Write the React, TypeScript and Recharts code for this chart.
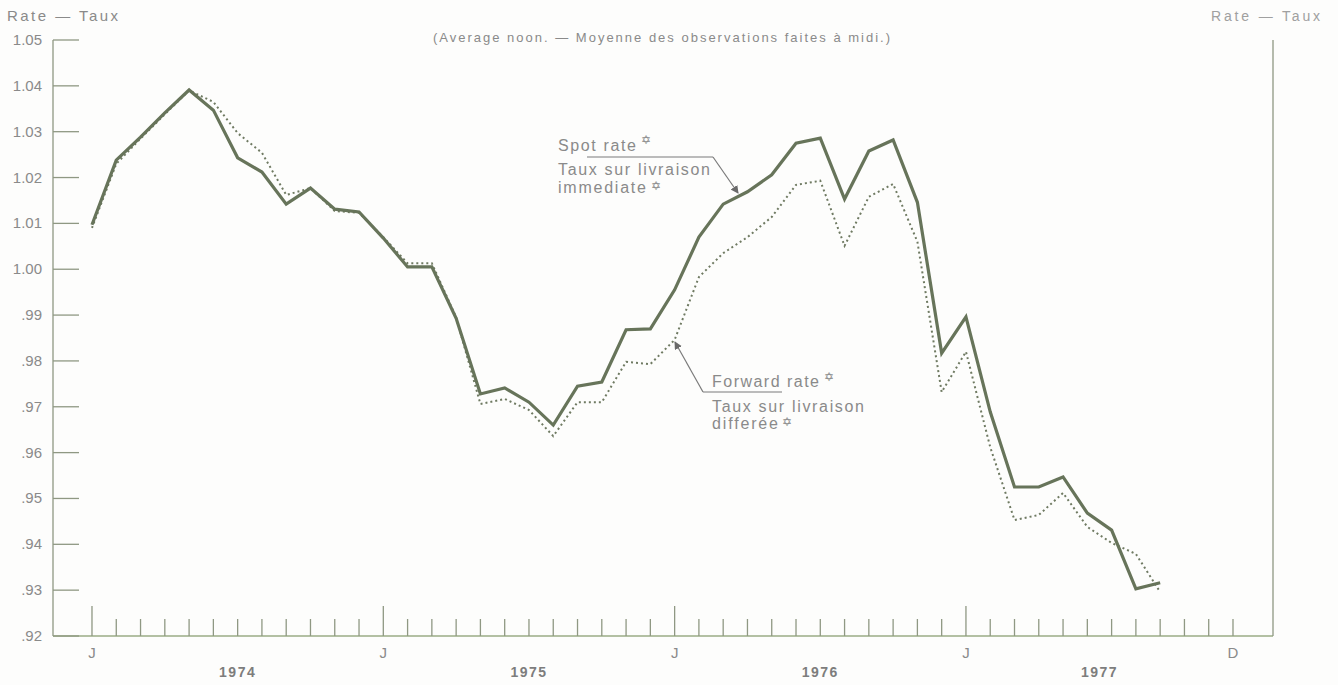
import React from 'react';
import { LineChart, Line, XAxis, YAxis } from 'recharts';

// Month index 0 = January 1974 ... 44 = September 1977
const monthIndex = [
  0, 1, 2, 3, 4, 5, 6, 7, 8, 9, 10, 11,
  12, 13, 14, 15, 16, 17, 18, 19, 20, 21, 22, 23,
  24, 25, 26, 27, 28, 29, 30, 31, 32, 33, 34, 35,
  36, 37, 38, 39, 40, 41, 42, 43, 44,
];

const spotRate = [
  1.0097, 1.0238, 1.0288, 1.0341, 1.0391, 1.0347, 1.0243, 1.0212, 1.0142, 1.0177, 1.0131, 1.0125,
  1.0068, 1.0005, 1.0005, 0.9893, 0.9728, 0.9741, 0.971, 0.966, 0.9745, 0.9754, 0.9868, 0.987,
  0.9955, 1.007, 1.0142, 1.0169, 1.0206, 1.0275, 1.0286, 1.0153, 1.0258, 1.0282, 1.0146, 0.9817,
  0.9896, 0.9689, 0.9525, 0.9525, 0.9547, 0.9468, 0.9431, 0.9303, 0.9316,
];

const forwardRate = [
  1.009, 1.023, 1.0285, 1.0338, 1.039, 1.0365, 1.0297, 1.0254, 1.0162, 1.0177, 1.0127, 1.0123,
  1.007, 1.0013, 1.0013, 0.9895, 0.9706, 0.9717, 0.9693, 0.9636, 0.971, 0.971, 0.9798, 0.9793,
  0.9846, 0.9983, 1.0035, 1.007, 1.0114, 1.0184, 1.0193, 1.0051, 1.0158, 1.0186, 1.006, 0.9732,
  0.982, 0.9612, 0.9453, 0.9464, 0.9512, 0.9438, 0.9403, 0.9379, 0.9296,
];

// month tick marks Jan 1974 .. Dec 1977
const monthTicks = [
  0, 1, 2, 3, 4, 5, 6, 7, 8, 9, 10, 11,
  12, 13, 14, 15, 16, 17, 18, 19, 20, 21, 22, 23,
  24, 25, 26, 27, 28, 29, 30, 31, 32, 33, 34, 35,
  36, 37, 38, 39, 40, 41, 42, 43, 44, 45, 46, 47,
];
const monthLabelAt: Record<number, string> = { 0: 'J', 12: 'J', 24: 'J', 36: 'J', 47: 'D' };

const yearLabels = ['1974', '1975', '1976', '1977'];
const yearTickPositions = [6, 18, 30, 41.5];

const rateTicks = [0.92, 0.93, 0.94, 0.95, 0.96, 0.97, 0.98, 0.99, 1.0, 1.01, 1.02, 1.03, 1.04, 1.05];

const data = monthIndex.map((m, i) => ({ m, spot: spotRate[i], forward: forwardRate[i] }));

const X_DOMAIN: [number, number] = [-1.606, 48.648];

const FONT = '"Liberation Sans", Arial, Helvetica, sans-serif';
const TEXT = '#8a8a8a';
const AXIS = '#8f9883';
const LINE = '#67745a';

const fmtRate = (v: number) => (v >= 1 ? v.toFixed(2) : '.' + Math.round(v * 100).toString().slice(-2));

const MonthTick = (props: any) => {
  const { x, y, payload } = props;
  const v = payload.value as number;
  const isJan = v % 12 === 0;
  const label = monthLabelAt[v];
  return (
    <g>
      <line x1={x} x2={x} y1={y} y2={y - (isJan ? 30 : 17)} stroke={AXIS} strokeWidth={1.3} />
      {label ? (
        <text x={x} y={y + 22} textAnchor="middle" fontFamily={FONT} fontSize={15} fill={TEXT}>
          {label}
        </text>
      ) : null}
    </g>
  );
};

const YearTick = (props: any) => {
  const { x, y, payload } = props;
  const idx = yearTickPositions.indexOf(payload.value);
  return (
    <text x={x} y={y + 17} textAnchor="middle" fontFamily={FONT} fontSize={14} fontWeight="bold" fill="#7d7d7d" letterSpacing={1.5}>
      {yearLabels[idx]}
    </text>
  );
};

const LeftTick = (props: any) => {
  const { x, y, payload } = props;
  return (
    <g>
      <line x1={x} x2={x + 26} y1={y} y2={y} stroke={AXIS} strokeWidth={1.3} />
      <text x={x - 11} y={y + 5} textAnchor="end" fontFamily={FONT} fontSize={15} fill={TEXT}>
        {fmtRate(payload.value)}
      </text>
    </g>
  );
};

const RightTick = (props: any) => {
  const { x, y, payload } = props;
  return (
    <g>
      <line x1={x - 25} x2={x} y1={y} y2={y} stroke={AXIS} strokeWidth={1.3} />
      <text x={x + 14} y={y + 5} textAnchor="start" fontFamily={FONT} fontSize={15} fill="#9a9a9a">
        {fmtRate(payload.value)}
      </text>
    </g>
  );
};

const Star = ({ x, y }: { x: number; y: number }) => (
  <text x={x} y={y} fontFamily='"DejaVu Sans", sans-serif' fontSize={12} fill={TEXT}>
    ✡
  </text>
);

export default function App() {
  return (
    <div style={{ position: 'absolute', left: 0, top: 0, width: 1338, height: 685, background: '#fdfdfc' }}>
      <LineChart width={1338} height={685} data={data} margin={{ top: 40, right: 0, bottom: 0, left: 0 }}>
        <XAxis
          xAxisId="m"
          dataKey="m"
          type="number"
          domain={X_DOMAIN}
          allowDataOverflow
          ticks={monthTicks}
          interval={0}
          tickSize={0}
          tickMargin={0}
          tickLine={false}
          tick={<MonthTick />}
          axisLine={{ stroke: '#9aab86', strokeWidth: 1.6 }}
          height={24}
        />
        <XAxis
          xAxisId="y"
          dataKey="m"
          type="number"
          domain={X_DOMAIN}
          allowDataOverflow
          ticks={yearTickPositions}
          interval={0}
          tickSize={0}
          tickMargin={0}
          tickLine={false}
          axisLine={false}
          tick={<YearTick />}
          height={25}
        />
        <YAxis
          yAxisId="left"
          domain={[0.92, 1.05]}
          ticks={rateTicks}
          interval={0}
          tickSize={0}
          tickMargin={0}
          tickLine={false}
          tick={<LeftTick />}
          axisLine={{ stroke: AXIS, strokeWidth: 1.3 }}
          width={53}
        />
        <YAxis
          yAxisId="right"
          orientation="right"
          domain={[0.92, 1.05]}
          ticks={rateTicks}
          interval={0}
          tickSize={0}
          tickMargin={0}
          tickLine={false}
          tick={<RightTick />}
          axisLine={{ stroke: AXIS, strokeWidth: 1.3 }}
          width={65}
        />
        <Line
          xAxisId="m"
          yAxisId="left"
          dataKey="forward"
          type="linear"
          stroke="#6f7a62"
          strokeWidth={2}
          strokeDasharray="2 3"
          dot={false}
          isAnimationActive={false}
        />
        <Line
          xAxisId="m"
          yAxisId="left"
          dataKey="spot"
          type="linear"
          stroke={LINE}
          strokeWidth={3.2}
          dot={false}
          isAnimationActive={false}
        />
      </LineChart>
      <svg
        width={1338}
        height={685}
        style={{ position: 'absolute', left: 0, top: 0, pointerEvents: 'none' }}
      >
        <defs>
          <marker id="ah" markerWidth="8" markerHeight="8" refX="7" refY="4" orient="auto" markerUnits="userSpaceOnUse">
            <path d="M0,0 L8,4 L0,8 z" fill="#6a6a6a" />
          </marker>
        </defs>
        <text x={7} y={21} fontFamily={FONT} fontSize={15} fill={TEXT} textLength={111} lengthAdjust="spacing">
          Rate — Taux
        </text>
        <text x={1211} y={21} fontFamily={FONT} fontSize={14} fill="#a0a0a0" textLength={109} lengthAdjust="spacing">
          Rate — Taux
        </text>
        <text x={433} y={42} fontFamily={FONT} fontSize={13} fill={TEXT} textLength={457} lengthAdjust="spacing">
          (Average noon. — Moyenne des observations faites à midi.)
        </text>

        {/* Spot rate annotation */}
        <text x={558} y={151} fontFamily={FONT} fontSize={16} fill={TEXT} textLength={78} lengthAdjust="spacing">
          Spot rate
        </text>
        <Star x={641} y={144} />
        <line x1={587} y1={157} x2={713} y2={157} stroke="#7a7a7a" strokeWidth={1.2} />
        <line x1={713} y1={157} x2={738} y2={193} stroke="#7a7a7a" strokeWidth={1.2} markerEnd="url(#ah)" />
        <text x={558} y={175} fontFamily={FONT} fontSize={16} fill={TEXT} textLength={152} lengthAdjust="spacing">
          Taux sur livraison
        </text>
        <text x={558} y={193} fontFamily={FONT} fontSize={16} fill={TEXT} textLength={88} lengthAdjust="spacing">
          immediate
        </text>
        <Star x={651} y={190} />

        {/* Forward rate annotation */}
        <text x={712} y={387} fontFamily={FONT} fontSize={16} fill={TEXT} textLength={107} lengthAdjust="spacing">
          Forward rate
        </text>
        <Star x={824} y={381} />
        <line x1={703} y1={392} x2={782} y2={392} stroke="#7a7a7a" strokeWidth={1.2} />
        <line x1={703} y1={392} x2={675} y2={342} stroke="#7a7a7a" strokeWidth={1.2} markerEnd="url(#ah)" />
        <text x={712} y={412} fontFamily={FONT} fontSize={16} fill={TEXT} textLength={152} lengthAdjust="spacing">
          Taux sur livraison
        </text>
        <text x={712} y={429} fontFamily={FONT} fontSize={16} fill={TEXT} textLength={66} lengthAdjust="spacing">
          differée
        </text>
        <Star x={782} y={426} />
      </svg>
    </div>
  );
}
